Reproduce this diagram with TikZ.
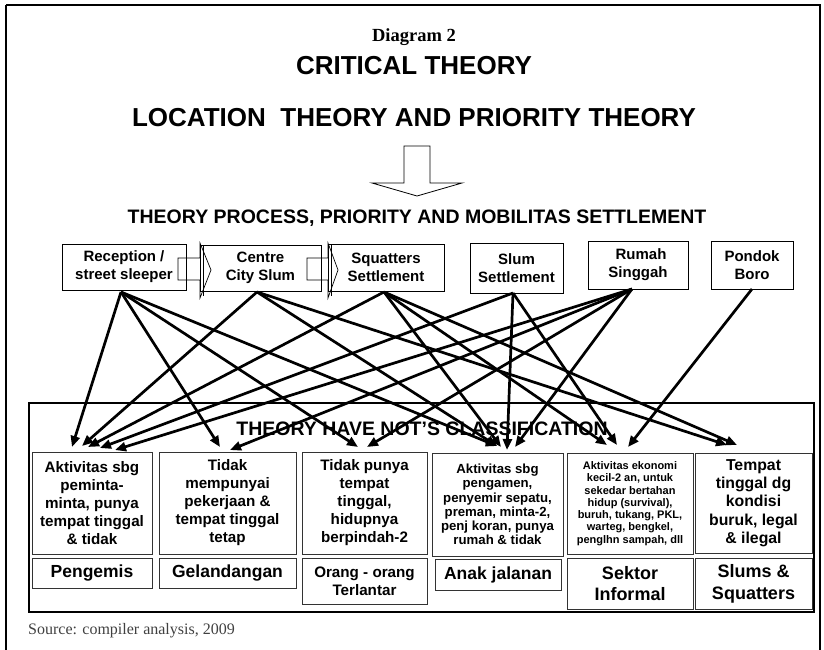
\documentclass[tikz,border=0pt]{standalone}
\usepackage{fontspec}
\setmainfont{Liberation Sans}
\newfontfamily\timesf{Liberation Serif}
\usetikzlibrary{arrows.meta}
\tikzset{
  x=1pt,y=-1pt,
  topbox/.style={draw=black,line width=0.8pt,font=\bfseries\fontsize{15}{18}\selectfont,align=center,inner sep=0pt},
  descbox/.style={draw=black!80,line width=1pt,font=\bfseries\fontsize{15.2}{18}\selectfont,align=center,inner sep=0pt},
  labbox/.style={draw=black!80,line width=1pt,font=\bfseries\fontsize{17.5}{21.5}\selectfont,align=center,inner sep=0pt},
  conn/.style={line width=2.7pt,-{Triangle[length=11pt,width=9pt]}},
  big/.style={font=\bfseries\fontsize{26}{30}\selectfont},
}
\begin{document}
\begin{tikzpicture}
\useasboundingbox (0,0) rectangle (824,650);
\begin{scope}
\clip (0,0) rectangle (824,650);
\draw[line width=1.5pt] (6,5) -- (820,5) -- (820,660);
\draw[line width=1.5pt] (6,5) -- (6,660);
\end{scope}
% titles
\node[font=\timesf\bfseries\fontsize{18.5}{20}\selectfont] (t0) at (414,37) {Diagram 2};
\node[big] (t1) at (414,66) {CRITICAL THEORY};
\node[big] (t2) at (414,118) {LOCATION\ \ THEORY AND PRIORITY THEORY};
% block arrow down
\draw[line width=0.8pt,fill=white] (404,146) -- (430,146) -- (430,183) -- (462,183) -- (417,196) -- (372,183) -- (404,183) -- cycle;
\node[font=\bfseries\fontsize{19.5}{22}\selectfont] (t3) at (417,218) {THEORY PROCESS, PRIORITY AND MOBILITAS SETTLEMENT};
% top boxes
\node[topbox,minimum width=124pt,minimum height=46pt] (rec) at (124,267) {Reception /\\street sleeper};
\node[topbox,minimum width=121pt,minimum height=46pt] (cen) at (260.5,268) {Centre\\City Slum};
\node[topbox,minimum width=116pt,minimum height=47pt] (squ) at (386,267.5) {Squatters\\Settlement};
\node[topbox,minimum width=93pt,minimum height=50pt] (slu) at (516.5,268) {Slum\\Settlement};
\node[topbox,minimum width=100pt,minimum height=48pt] (rum) at (638,265) {\hspace*{6pt}Rumah\\Singgah};
\node[topbox,minimum width=82pt,minimum height=48pt] (pon) at (752,265) {Pondok\\Boro};
% small hollow arrows
\draw[line width=0.7pt] (178,258) -- (200,258) -- (200,243) -- (211,270) -- (200,298) -- (200,280) -- (178,280) -- cycle;
\draw[line width=0.7pt] (203,245) -- (203,296);
\draw[line width=0.7pt] (307,258) -- (328,258) -- (328,243) -- (338,270) -- (328,298) -- (328,280) -- (307,280) -- cycle;
\draw[line width=0.7pt] (331,245) -- (331,296);
% inner frame
\draw[line width=2.6pt] (29,403) rectangle (814,612);
\node[font=\bfseries\fontsize{19.5}{22}\selectfont] (t4) at (422,429) {THEORY HAVE NOT'S CLASSIFICATION};
% description boxes
\node[descbox,minimum width=120pt,minimum height=102pt] (b1) at (92,503) {Aktivitas sbg\\peminta-\\minta, punya\\tempat tinggal\\\& tidak};
\node[descbox,minimum width=137pt,minimum height=102pt] (b2) at (227.5,503) {Tidak\\mempunyai\\pekerjaan \&\\tempat tinggal\\tetap};
\node[descbox,minimum width=125pt,minimum height=102pt] (b3) at (364.5,503) {Tidak punya\\tempat\\tinggal,\\hidupnya\\berpindah-2};
\node[descbox,minimum width=131pt,minimum height=103pt,font=\bfseries\fontsize{13.2}{14.3}\selectfont] (b4) at (497.5,504.5) {Aktivitas sbg\\pengamen,\\penyemir sepatu,\\preman, minta-2,\\penj koran, punya\\rumah \& tidak};
\node[descbox,minimum width=126pt,minimum height=101pt,font=\bfseries\fontsize{11}{12.3}\selectfont] (b5) at (630,503.5) {Aktivitas ekonomi\\kecil-2 an, untuk\\sekedar bertahan\\hidup (survival),\\buruh, tukang, PKL,\\warteg, bengkel,\\penglhn sampah, dll};
\node[descbox,minimum width=117pt,minimum height=100pt,font=\bfseries\fontsize{15.8}{18.3}\selectfont] (b6) at (753.5,503) {Tempat\\tinggal dg\\kondisi\\buruk, legal\\\& ilegal};
% label boxes
\node[labbox,minimum width=120pt,minimum height=30pt] (l1) at (92,573) {Pengemis};
\node[labbox,minimum width=137pt,minimum height=30pt] (l2) at (227.5,573) {Gelandangan};
\node[labbox,minimum width=125pt,minimum height=46pt,font=\bfseries\fontsize{15.2}{17.7}\selectfont] (l3) at (364.5,581) {Orang - orang\\Terlantar};
\node[labbox,minimum width=126pt,minimum height=31pt] (l4) at (498,574.5) {Anak jalanan};
\node[labbox,minimum width=126pt,minimum height=51pt,font=\bfseries\fontsize{18}{21.7}\selectfont] (l5) at (630,583.5) {Sektor\\Informal};
\node[labbox,minimum width=117pt,minimum height=51pt,font=\bfseries\fontsize{18}{21.7}\selectfont] (l6) at (753.5,583.5) {Slums \&\\Squatters};
% target coordinates
\coordinate (a1) at (72,447);
\coordinate (a2) at (82,446);
\coordinate (a3) at (88,447);
\coordinate (a4) at (100,448);
\coordinate (a5) at (115,450);
\coordinate (bb1) at (220,447);
\coordinate (bb2) at (230,450);
\coordinate (c1) at (358,447);
\coordinate (c2) at (367,447);
\coordinate (d1) at (497,446);
\coordinate (d0) at (501,447);
\coordinate (d2) at (507,450);
\coordinate (d3) at (515,447);
\coordinate (e1) at (607,445);
\coordinate (e2) at (617,445);
\coordinate (e3) at (628,447);
\coordinate (f1) at (727,445);
\coordinate (f2) at (737,445);
% sources
\coordinate (sr) at (121,292);
\coordinate (sc) at (257,292);
\coordinate (ss) at (384,292);
\coordinate (sl) at (513,293);
\coordinate (sm) at (632,289);
\coordinate (sp) at (752,289);
% connectors
\draw[conn] (sr) -- (a1);
\draw[conn] (sr) -- (bb1);
\draw[conn] (sr) -- (c1);
\draw[conn] (sr) -- (d1);
\draw[conn] (sc) -- (a2);
\draw[conn] (sc) -- (d1);
\draw[conn] (sc) -- (f1);
\draw[conn] (ss) -- (a3);
\draw[conn] (ss) -- (d0);
\draw[conn] (ss) -- (e1);
\draw[conn] (ss) -- (f2);
\draw[conn] (sl) -- (a4);
\draw[conn] (sl) -- (d2);
\draw[conn] (sl) -- (e2);
\draw[conn] (sm) -- (a5);
\draw[conn] (sm) -- (bb2);
\draw[conn] (sm) -- (c2);
\draw[conn] (sm) -- (d3);
\draw[conn] (sp) -- (e3);
% source note
\node[font=\timesf\fontsize{16}{18}\selectfont,text=black!75,anchor=base west,inner sep=0pt] (src) at (28,634) {Source: compiler analysis, 2009};
\end{tikzpicture}
\end{document}
